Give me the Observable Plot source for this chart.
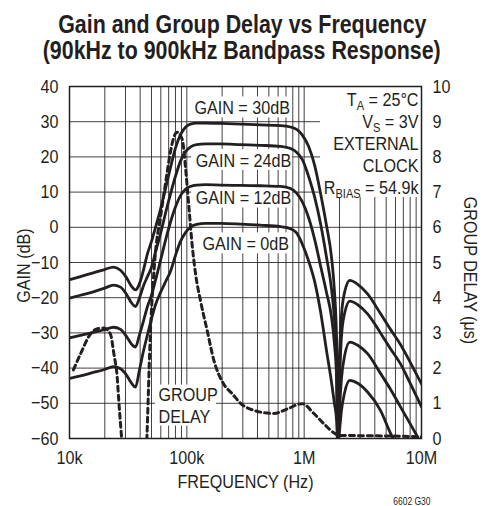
<!DOCTYPE html>
<html>
<head>
<meta charset="utf-8">
<script src="https://cdn.jsdelivr.net/npm/d3@7"></script>
<script src="https://cdn.jsdelivr.net/npm/@observablehq/plot@0.6"></script>
<style>
  html, body { margin: 0; padding: 0; background: #fff; }
  #chart { width: 484px; }
  #title { box-sizing: border-box; height: 66px; padding-top: 11px; text-align: center;
    font-family: "Liberation Sans", Arial, sans-serif;
    font-weight: bold; font-size: 25px; line-height: 26px; color: #231f20; white-space: nowrap; }
  #title span { display: inline-block; transform: scaleX(0.855); transform-origin: 50% 50%; }
  svg { display: block; }
</style>
</head>
<body>
<div id="chart">
  <div id="title"><span>Gain and Group Delay vs Frequency</span><br><span>(90kHz to 900kHz Bandpass Response)</span></div>
</div>
<script>
// ---------- data ----------
const freq = [10e3, 12.4e3, 15.7e3, 19.9e3, 23.7e3, 27.2e3, 30.6e3, 33.8e3, 36.5e3, 39.5e3,
  42.8e3, 46.2e3, 50e3, 54.1e3, 59.7e3, 65.8e3, 72.6e3, 80e3, 88.3e3, 97.4e3,
  107e3, 121e3, 144e3, 194e3, 287e3, 424e3, 628e3, 765e3, 862e3, 965e3,
  1.09e6, 1.23e6, 1.38e6, 1.55e6, 1.71e6, 1.81e6, 1.89e6, 1.94e6, 2.0e6, 2.08e6,
  2.21e6, 2.45e6, 2.86e6, 3.47e6, 4.47e6, 5.44e6, 6.62e6, 8.06e6, 10e6];

const gain30 = [-14.9, -14.0, -13.0, -12.0, -11.3, -12.2, -14.3, -16.8, -17.8, -16.0,
  -12.0, -7.5, -4.0, 0.0, 5.2, 11.0, 17.0, 22.5, 26.3, 28.4,
  29.3, 29.6, 29.6, 29.5, 29.3, 29.1, 28.9, 28.5, 27.8, 26.2,
  23.0, 17.5, 9.6, 0.5, -8.5, -18.0, -32.0, -63.0, -38.0, -25.0,
  -18.5, -15.1, -16.2, -18.9, -24.5, -29.0, -33.3, -38.5, -44.5];

const gain24 = [-20.1, -19.3, -18.4, -17.3, -16.4, -17.0, -19.0, -21.5, -22.5, -20.0,
  -16.5, -14.0, -11.3, -7.0, -1.8, 4.0, 9.5, 14.5, 18.8, 21.5,
  22.8, 23.5, 23.7, 23.7, 23.5, 23.3, 23.0, 22.4, 21.3, 19.2,
  14.5, 8.5, 1.0, -8.5, -17.5, -26.0, -38.0, -63.0, -45.0, -31.0,
  -24.5, -21.0, -22.0, -24.6, -30.0, -34.5, -38.8, -44.5, -51.0];

const gain12 = [-31.4, -30.7, -29.9, -29.1, -28.4, -29.0, -31.0, -33.2, -34.0, -30.5,
  -26.5, -22.5, -19.3, -15.0, -9.4, -3.7, 1.5, 5.8, 9.0, 10.8,
  11.6, 12.0, 12.1, 12.0, 11.9, 11.8, 11.6, 11.0, 9.7, 7.2,
  2.8, -3.5, -11.0, -18.5, -25.5, -33.0, -43.0, -63.0, -52.0, -43.0,
  -36.5, -32.6, -33.5, -35.9, -41.5, -46.0, -51.0, -56.0, -61.5];

const gain0 = [-42.9, -42.2, -41.3, -40.4, -39.6, -40.2, -42.0, -44.3, -45.4, -40.5,
  -35.0, -30.5, -26.0, -22.0, -18.5, -15.5, -12.5, -8.0, -4.0, -1.5,
  0.0, 0.8, 1.1, 1.1, 0.9, 0.6, 0.2, -0.4, -1.6, -4.8,
  -9.5, -15.5, -24.0, -35.0, -44.0, -50.0, -55.0, -63.0, -58.0, -52.0,
  -47.0, -43.5, -44.3, -46.8, -52.0, -58.5, -64.0, -70.0, -76.0];

const seriesNames = ["GAIN = 30dB", "GAIN = 24dB", "GAIN = 12dB", "GAIN = 0dB"];
const seriesValues = [gain30, gain24, gain12, gain0];

// group delay (µs); null breaks the dashed line
const delayFreq = [10.8e3, 12.4e3, 15.1e3, 17.3e3, 19.5e3, 22.3e3, 23.9e3, 25.5e3, 26.3e3, 27.2e3,
  28.3e3, 36e3, 45.3e3, 46.2e3, 47.1e3, 48.4e3, 49.7e3, 51.7e3, 54.1e3, 59.7e3,
  65.8e3, 72.6e3, 77.4e3, 82.8e3, 91.3e3, 97.4e3, 104e3, 111e3, 119e3, 131e3,
  149e3, 170e3, 206e3, 244e3, 287e3, 372e3, 551e3, 717e3, 962e3, 1.21e6,
  1.47e6, 1.85e6, 1.97e6, 3.02e6, 5.44e6, 10e6];
const delay = [1.95, 2.4, 2.97, 3.12, 3.14, 2.97, 2.4, 1.74, 1.08, 0.42,
  -0.3, null, -0.3, 0.5, 1.4, 2.6, 3.5, 4.45, 5.3, 6.3,
  7.25, 8.15, 8.55, 8.7, 8.5, 7.7, 6.6, 5.5, 4.65, 3.9,
  3.07, 2.22, 1.55, 1.27, 1.0, 0.8, 0.71, 0.84, 0.99, 0.71,
  0.42, 0.13, 0.09, 0.08, 0.07, 0.05];

const gainTicks = [-60, -50, -40, -30, -20, -10, 0, 10, 20, 30, 40];
const delayTickLabels = ["0", "1", "2", "3", "4", "5", "6", "7", "8", "9", "10"];
const xTicks = [1e4, 1e5, 1e6, 1e7];
const xTickLabels = ["10k", "100k", "1M", "10M"];
const xGrid = [1e4, 2e4, 3e4, 4e4, 5e4, 6e4, 7e4, 8e4, 9e4,
  1e5, 2e5, 3e5, 4e5, 5e5, 6e5, 7e5, 8e5, 9e5,
  1e6, 2e6, 3e6, 4e6, 5e6, 6e6, 7e6, 8e6, 9e6, 1e7];

// ---------- chart ----------
const INK = "#231f20";
const FONT = '"Liberation Sans", Arial, sans-serif';
const CONDENSE = 0.85;

const rows = [];
seriesValues.forEach((vals, k) => freq.forEach((f, i) => rows.push({f, g: vals[i], s: seriesNames[k]})));
const delayRows = delayFreq.map((f, i) => ({f, d: delay[i]}));

// white background box behind a label, anchored at a data point, padded in pixels
const box = (x, y, l, r, t, b) => Plot.rect([0], {
  x1: x, x2: x, y1: y, y2: y,
  insetLeft: -l, insetRight: -r, insetTop: -t, insetBottom: -b,
  fill: "#fff"
});

const chart = Plot.plot({
  width: 484, height: 440,
  marginTop: 20, marginRight: 63, marginBottom: 68, marginLeft: 69,
  x: {type: "log", domain: [1e4, 1e7], label: null},
  y: {domain: [-60, 40], label: null},
  style: {fontFamily: FONT, fontSize: "19px", color: INK, background: "#fff", overflow: "visible"},
  marks: [
    Plot.gridX(xGrid, {stroke: INK, strokeOpacity: 0.85, strokeWidth: 1}),
    Plot.gridY(gainTicks, {stroke: INK, strokeOpacity: 0.85, strokeWidth: 1}),
    box(1e7, 40, 101, 0, 0, 111),
    box(116e3, 33.9, 4, 98, 11, 10),
    box(119e3, 19.0, 4, 97, 11, 10),
    box(119e3, 8.3, 4, 97, 11, 10),
    box(136e3, -4.7, 4, 90, 11, 10),
    box(57.4e3, -50.5, 3, 58, 20, 21),
    Plot.line(rows, {x: "f", y: "g", z: "s", stroke: INK, strokeWidth: 2.8, curve: "monotone-x", clip: true}),
    Plot.line(delayRows, {x: "f", y: d => d.d == null ? NaN : d.d * 10 - 60, stroke: INK, strokeWidth: 3,
      strokeDasharray: "5,4", curve: "monotone-x", clip: true}),
    Plot.text([seriesNames[0]], {x: 116e3, y: 33.9, textAnchor: "start"}),
    Plot.text([seriesNames[1]], {x: 119e3, y: 19.0, textAnchor: "start"}),
    Plot.text([seriesNames[2]], {x: 119e3, y: 8.3, textAnchor: "start"}),
    Plot.text([seriesNames[3]], {x: 136e3, y: -4.7, textAnchor: "start"}),
    Plot.text(["GROUP\nDELAY"], {x: 57.4e3, y: -50.5, textAnchor: "start", lineHeight: 22 / 19}),
    Plot.text(["T_{A} = 25°C\nV_{S} = 3V\nEXTERNAL\nCLOCK\nR_{BIAS} = 54.9k"], {
      frameAnchor: "top-right", textAnchor: "end", lineAnchor: "top", lineHeight: 22 / 19, dx: -3, dy: 4}),
    Plot.frame({stroke: INK, strokeWidth: 1.5}),
    Plot.axisX(xTicks, {tickSize: 0, tickPadding: 12, label: null,
      tickFormat: d => xTickLabels[xTicks.indexOf(d)]}),
    Plot.axisY(gainTicks, {anchor: "left", tickSize: 0, tickPadding: 11, label: null,
      tickFormat: d => d < 0 ? "\u2212" + (-d) : String(d)}),
    Plot.axisY(gainTicks, {anchor: "right", tickSize: 0, tickPadding: 11, label: null,
      tickFormat: d => delayTickLabels[gainTicks.indexOf(d)]}),
    Plot.text(["GAIN (dB)"], {frameAnchor: "left", rotate: -90, textAnchor: "middle", lineAnchor: "middle", dx: -46, dy: 3}),
    Plot.text(["GROUP DELAY (\u03bcs)"], {frameAnchor: "right", rotate: 90, textAnchor: "middle", lineAnchor: "middle", dx: 49, dy: 8}),
    Plot.text(["FREQUENCY (Hz)"], {frameAnchor: "bottom", textAnchor: "middle", lineAnchor: "middle", dy: 43.5}),
    Plot.text(["6602 G30"], {frameAnchor: "bottom-right", textAnchor: "end", lineAnchor: "middle", dx: 9, dy: 63, fontSize: 10})
  ]
});

// turn "_{...}" into real subscript tspans
function subscripts(root) {
  const walker = document.createTreeWalker(root, NodeFilter.SHOW_TEXT);
  const nodes = [];
  while (walker.nextNode()) nodes.push(walker.currentNode);
  const NS = "http://www.w3.org/2000/svg";
  for (const n of nodes) {
    const s = n.nodeValue;
    if (!s.includes("_{")) continue;
    const parts = s.split(/_\{([^}]*)\}/);
    const frag = document.createDocumentFragment();
    parts.forEach((p, i) => {
      if (i % 2 === 1) {
        const t = document.createElementNS(NS, "tspan");
        t.setAttribute("dy", "4");
        t.setAttribute("font-size", "13");
        t.textContent = p;
        frag.appendChild(t);
      } else if (i === 0) {
        if (p) frag.appendChild(document.createTextNode(p));
      } else {
        const t = document.createElementNS(NS, "tspan");
        t.setAttribute("dy", "-4");
        t.textContent = p;
        frag.appendChild(t);
      }
    });
    n.parentNode.replaceChild(frag, n);
  }
}
// condensed lettering (as in the reference) by narrowing each text about its anchor
function condense(root) {
  root.querySelectorAll("text").forEach(el => {
    const tr = el.getAttribute("transform");
    if (tr) el.setAttribute("transform", tr + ` scale(${CONDENSE},1)`);
    else {
      const x = +(el.getAttribute("x") || 0);
      el.setAttribute("transform", `translate(${x * (1 - CONDENSE)},0) scale(${CONDENSE},1)`);
    }
  });
}
subscripts(chart);
condense(chart);
document.getElementById("chart").appendChild(chart);
</script>
</body>
</html>
